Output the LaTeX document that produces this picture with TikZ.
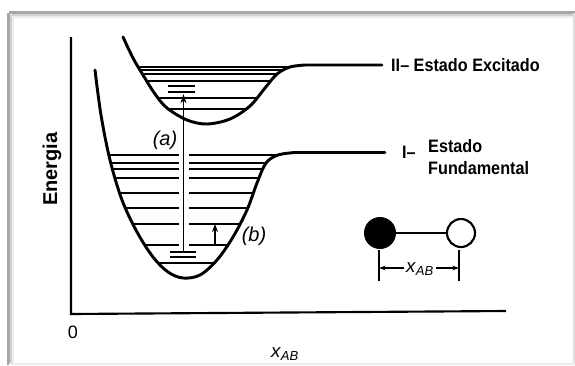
\documentclass[tikz,border=0pt]{standalone}
\usepackage{fontspec}
\setmainfont{Liberation Sans}
\usetikzlibrary{arrows.meta}
\begin{document}
\begin{tikzpicture}[x=0.75pt,y=-0.75pt,
  curve/.style={line width=2.2pt, line cap=round, line join=round},
  lvl/.style={line width=1.3pt},
  bar/.style={line width=1.5pt},
  axis/.style={line width=1.6pt},
  arrA/.style={line width=0.9pt, -{Stealth[length=7pt,width=4.5pt]}},
  arrB/.style={line width=1.1pt, -{Stealth[length=6pt,width=4.5pt]}},
  dimarr/.style={line width=1.1pt, -{Stealth[length=5pt,width=3.5pt]}},
  lbl/.style={inner sep=0pt, font=\fontsize{12.3}{15}\selectfont\bfseries},
  statelbl/.style={inner sep=0pt, xscale=0.9, transform shape, font=\fontsize{13.5}{17}\selectfont\bfseries},
  framedark/.style={draw=gray!70, line width=1.6pt},
]
\useasboundingbox (0,0) rectangle (575,365);
\fill[white] (0,0) rectangle (575,365);
% frame
\draw[gray!15, line width=1.5pt] (13,17) -- (575,17);
\draw[gray!15, line width=1.5pt] (13,17) -- (13,365);
\draw[gray!35, line width=1.5pt] (11,15) -- (575,15);
\draw[gray!35, line width=1.5pt] (11,15) -- (11,365);
\draw[framedark] (8.5,12.5) -- (575,12.5);
\draw[framedark] (8.5,12.5) -- (8.5,365);
\draw[gray!25, line width=1pt] (574,13) -- (574,365);
\draw[gray!15, line width=1pt] (9,364) -- (575,364);

% axes
\coordinate (top) at (71,37);
\coordinate (orig) at (71,314);
\coordinate (xend) at (506,311);
\draw[axis] (top) -- (orig) -- (xend);
\node[lbl, font=\fontsize{13.5}{16}\selectfont] (zero) at (73,332) {0};
\node[lbl, font=\fontsize{14}{16}\selectfont] (xlab) at (285,354) {\textit{x}\textsubscript{\textit{AB}}};
\node[inner sep=0pt, rotate=90, font=\fontsize{15}{17}\selectfont\bfseries] (en) at (52,169) {Energia};

% ground state levels (clipped)
\begin{scope}
\clip plot[smooth, tension=0.55] coordinates {(95,70) (101,115) (110,160) (122,200) (137,232) (153,257) (168,272) (183,278) (200,275) (217,260) (233,237) (247,210) (257,183) (266,163) (278,155) (295,152.5)} -- (385,152.5) -- cycle;
\foreach \yy in {155,163,169,178,193,208,224,245} {
  \draw[lvl] (80,\yy) -- (179,\yy);
  \draw[lvl] (189,\yy) -- (400,\yy);
}
\draw[lvl] (80,263) -- (400,263);
\end{scope}
\draw[curve] plot[smooth, tension=0.55] coordinates {(95,70) (101,115) (110,160) (122,200) (137,232) (153,257) (168,272) (183,278) (200,275) (217,260) (233,237) (247,210) (257,183) (266,163) (278,155) (295,152.5)} -- (385,152.5);
\draw[bar] (170,252) -- (196,252);
\draw[bar] (170,257) -- (196,257);

% excited state levels (clipped)
\begin{scope}
\clip plot[smooth, tension=0.55] coordinates {(123,37) (133,58) (143,75) (155,94) (167,108) (187,120) (207,124) (230,119) (250,106) (265,88) (277,74) (290,67) (305,65)} -- (382,65) -- cycle;
\foreach \yy in {67,70,74,81,98,109} {
  \draw[lvl] (110,\yy) -- (400,\yy);
}
\end{scope}
\draw[curve] plot[smooth, tension=0.55] coordinates {(123,37) (133,58) (143,75) (155,94) (167,108) (187,120) (207,124) (230,119) (250,106) (265,88) (277,74) (290,67) (305,65)} -- (382,65);
\draw[bar] (168,86) -- (195,86);
\draw[bar] (168,92) -- (195,92);

% transitions
\coordinate (a0) at (183.5,251);
\coordinate (a1) at (183.5,94);
\draw[arrA] (a0) -- (a1);
\node[lbl, font=\fontsize{15}{17}\selectfont] (la) at (165,140) {\textit{(a)}};
\coordinate (b0) at (215,245);
\coordinate (b1) at (215,224);
\draw[arrB] (b0) -- (b1);
\node[lbl, font=\fontsize{15}{17}\selectfont] (lb) at (254,236) {\textit{(b)}};

% state labels
\node[statelbl, anchor=west] (exc) at (391,65) {II– Estado Excitado};
\node[statelbl, anchor=west] (gI) at (402,152) {I–};
\node[statelbl, anchor=west, align=left] (gtxt) at (428,157) {Estado\\Fundamental};

% molecule
\node[circle, fill=black, draw=black, line width=1.5pt, minimum size=30pt*0.75, inner sep=0pt] (A) at (380,233) {};
\node[circle, fill=white, draw=black, line width=1.6pt, minimum size=28pt*0.75, inner sep=0pt] (B) at (461,233) {};
\draw[line width=1.6pt] (A) -- (B);
\coordinate (tA1) at (379,250);
\coordinate (tA2) at (379,281);
\coordinate (tB1) at (459,250);
\coordinate (tB2) at (459,281);
\draw[line width=1.4pt] (tA1) -- (tA2);
\draw[line width=1.4pt] (tB1) -- (tB2);
\node[lbl, font=\fontsize{14}{16}\selectfont] (xm) at (420,269) {\textit{x}\textsubscript{\textit{AB}}};
\coordinate (dA) at (379,268);
\coordinate (dB) at (459,268);
\draw[dimarr] (xm.west |- dA) ++(-2,0) -- (dA);
\draw[dimarr] (xm.east |- dB) ++(2,0) -- (dB);
\end{tikzpicture}
\end{document}
